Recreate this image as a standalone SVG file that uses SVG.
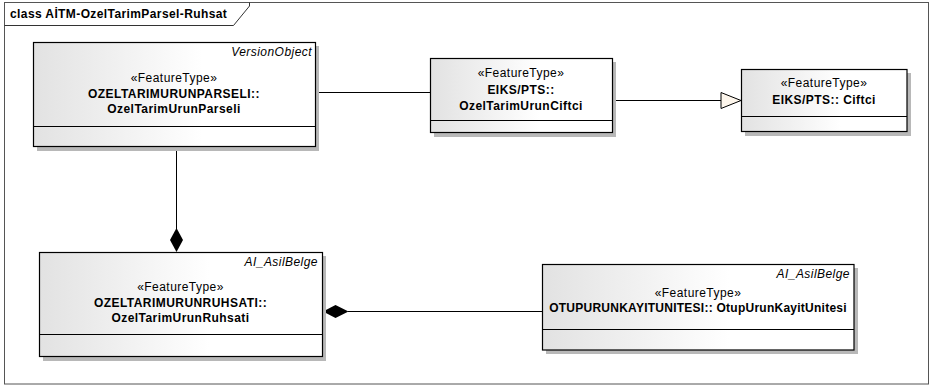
<svg xmlns="http://www.w3.org/2000/svg" width="930" height="386" viewBox="0 0 930 386">
<style>
text{font-family:"Liberation Sans",Arial,sans-serif;font-size:12px;letter-spacing:0.45px;fill:#000}
.b{font-weight:bold}
.i{font-style:italic}
.c{text-anchor:middle}
.r{text-anchor:end}
.box{fill:url(#g);stroke:#000;stroke-width:1.2}
.sh{fill:#b8b8b8}
.ln{stroke:#000;stroke-width:1;fill:none}
</style>
<defs>
<linearGradient id="g" x1="0" y1="0" x2="1" y2="0">
<stop offset="0" stop-color="#e2e2e2"/>
<stop offset="0.6" stop-color="#ffffff"/>
<stop offset="1" stop-color="#ffffff"/>
</linearGradient>
</defs>
<rect x="0" y="0" width="930" height="386" fill="#fff"/>
<g id="frame">
<rect x="4.5" y="2.5" width="924" height="381.5" fill="none" stroke="#555" stroke-width="1"/>
<path d="M4.5 25.5 H233.5 L249.5 6 V2.5" fill="none" stroke="#333" stroke-width="1"/>
<text class="b" x="10" y="18" style="letter-spacing:0.4px">class AİTM-OzelTarimParsel-Ruhsat</text>
</g>
<g id="connectors">
<line class="ln" x1="315" y1="92.5" x2="430" y2="92.5"/>
<line class="ln" x1="612" y1="100.5" x2="721" y2="100.5"/>
<polygon points="721,92.5 741,100.5 721,108.5" fill="#fdf6ec" stroke="#000" stroke-width="1"/>
<line class="ln" x1="176.5" y1="147" x2="176.5" y2="229"/>
<polygon points="176.5,228 183,240 176.5,252 170,240" fill="#000"/>
<line class="ln" x1="348" y1="311.5" x2="542" y2="311.5"/>
<polygon points="323,311.5 335.5,305 348.5,311.5 335.5,318" fill="#000"/>
</g>
<g id="n1">
<rect class="sh" x="37" y="46" width="282" height="105"/>
<rect class="box" x="33.5" y="42.5" width="282" height="104"/>
<line class="ln" x1="33.5" y1="126.5" x2="315.5" y2="126.5"/>
<text class="i r" x="312" y="56">VersionObject</text>
<text class="c" x="174" y="82">«FeatureType»</text>
<text class="b c" x="174" y="98">OZELTARIMURUNPARSELI::</text>
<text class="b c" x="174" y="113">OzelTarimUrunParseli</text>
</g>
<g id="n2">
<rect class="sh" x="434" y="62" width="182" height="75"/>
<rect class="box" x="430.5" y="58.5" width="182" height="74"/>
<line class="ln" x1="430.5" y1="120.5" x2="612.5" y2="120.5"/>
<text class="c" x="521" y="77">«FeatureType»</text>
<text class="b c" x="521" y="94">EIKS/PTS::</text>
<text class="b c" x="521" y="110">OzelTarimUrunCiftci</text>
</g>
<g id="n3">
<rect class="sh" x="745" y="73" width="166" height="63"/>
<rect class="box" x="741.5" y="69.5" width="165.5" height="62"/>
<line class="ln" x1="741.5" y1="116.5" x2="907" y2="116.5"/>
<text class="c" x="824" y="87">«FeatureType»</text>
<text class="b c" x="824" y="104">EIKS/PTS:: Ciftci</text>
</g>
<g id="n4">
<rect class="sh" x="43" y="256" width="283" height="105"/>
<rect class="box" x="39.5" y="252.5" width="283" height="104"/>
<line class="ln" x1="39.5" y1="334.5" x2="322.5" y2="334.5"/>
<text class="i r" x="318" y="266">AI_AsilBelge</text>
<text class="c" x="180.5" y="291">«FeatureType»</text>
<text class="b c" x="180.5" y="307">OZELTARIMURUNRUHSATI::</text>
<text class="b c" x="180.5" y="322">OzelTarimUrunRuhsati</text>
</g>
<g id="n5">
<rect class="sh" x="546" y="268" width="312" height="86"/>
<rect class="box" x="542.5" y="264.5" width="311.5" height="85.5"/>
<line class="ln" x1="542.5" y1="329.5" x2="854" y2="329.5"/>
<text class="i r" x="850" y="278">AI_AsilBelge</text>
<text class="c" x="698" y="297">«FeatureType»</text>
<text class="b c" x="698" y="312" style="letter-spacing:0.25px">OTUPURUNKAYITUNITESI:: OtupUrunKayitUnitesi</text>
</g>
</svg>
